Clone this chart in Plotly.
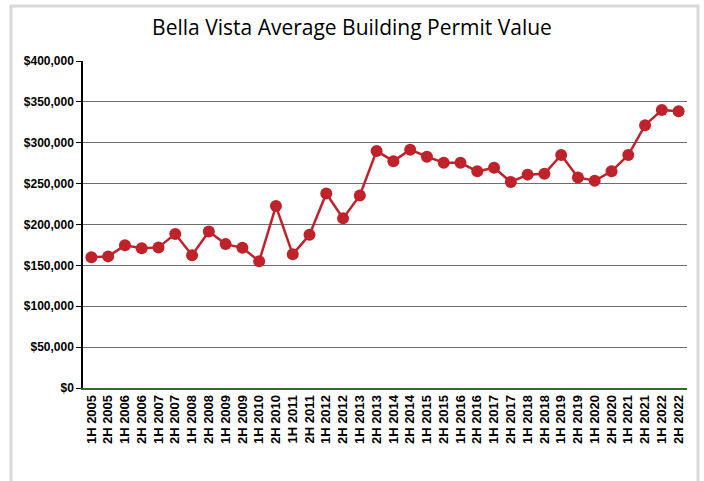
import plotly.graph_objects as go

periods = [f"{h} {y}" for y in range(2005, 2023) for h in ("1H", "2H")]
values = [160000, 161000, 174500, 171000, 172000, 188500, 162500, 191500,
          176000, 171500, 155000, 222500, 163500, 187500, 238000, 207500,
          235500, 290000, 277500, 291500, 283000, 275500, 275500, 265000,
          269500, 252000, 261000, 262000, 285000, 257500, 253500, 265000,
          285000, 321500, 340000, 338500]
y_ticks = list(range(0, 400001, 50000))
y_labels = [f"${v:,}" for v in y_ticks]

fig = go.Figure()
fig.add_trace(go.Scatter(
    x=periods, y=values, mode="lines+markers",
    line=dict(color="#C0222B", width=2.5),
    marker=dict(color="#C0222B", size=12),
    showlegend=False,
))

L, R, T, B = 83, 17, 61, 93
W, H = 704, 481
pw, ph = W - L - R, H - T - B

def px(x):
    return (x - L) / pw

def py(y):
    return (H - B - y) / ph

fig.update_layout(
    width=W, height=H,
    margin=dict(l=L, r=R, t=T, b=B, autoexpand=False),
    paper_bgcolor="white", plot_bgcolor="white",
    title=dict(text="Bella Vista Average Building Permit Value",
               x=0.5, xref="container", xanchor="center",
               y=1 - 28 / H, yref="container", yanchor="middle",
               font=dict(family="Open Sans", size=21, color="black")),
    font=dict(family="Liberation Sans", color="black"),
    xaxis=dict(type="category", tickangle=-90, showgrid=False,
               range=[-0.5, len(periods) - 0.5],
               showline=True, linecolor="#2E6B30", linewidth=1.5,
               ticks="", tickfont=dict(size=13, family="Liberation Sans", weight="bold")),
    yaxis=dict(range=[0, 400000], tickvals=y_ticks, ticktext=y_labels,
               showgrid=True, gridcolor="#6e6e6e", gridwidth=1.2,
               zeroline=False, showline=True, linecolor="black", linewidth=1.5,
               ticks="outside", ticklen=5, tickcolor="black", tickwidth=1.2,
               tickfont=dict(size=12, family="Liberation Sans", weight="bold")),
    shapes=[dict(type="rect", xref="paper", yref="paper",
                 x0=px(11), x1=px(698), y0=py(6), y1=py(495),
                 line=dict(color="#d9d9d9", width=3), layer="below")],
)

fig.write_html("out.html", config={"displayModeBar": False},
               post_script="document.body.style.margin='0px';document.body.style.overflow='hidden';")
